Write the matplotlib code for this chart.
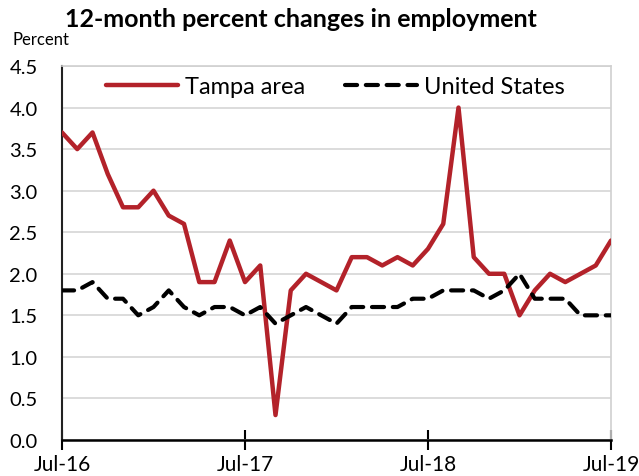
import matplotlib
matplotlib.use("Agg")
import matplotlib.pyplot as plt
import numpy as np

plt.rcParams['font.family'] = ['Lato', 'DejaVu Sans']

tick_labels = ["Jul-16", "Jul-17", "Jul-18", "Jul-19"]
tick_months = [0, 12, 24, 36]

tampa = [3.7, 3.5, 3.7, 3.2, 2.8, 2.8, 3.0, 2.7, 2.6, 1.9, 1.9, 2.4,
         1.9, 2.1, 0.3, 1.8, 2.0, 1.9, 1.8, 2.2, 2.2, 2.1, 2.2, 2.1,
         2.3, 2.6, 4.0, 2.2, 2.0, 2.0, 1.5, 1.8, 2.0, 1.9, 2.0, 2.1,
         2.4]
united_states = [1.8, 1.8, 1.9, 1.7, 1.7, 1.5, 1.6, 1.8, 1.6, 1.5, 1.6, 1.6,
                 1.5, 1.6, 1.4, 1.5, 1.6, 1.5, 1.4, 1.6, 1.6, 1.6, 1.6, 1.7,
                 1.7, 1.8, 1.8, 1.8, 1.7, 1.8, 2.0, 1.7, 1.7, 1.7, 1.5, 1.5,
                 1.5]
months = np.arange(len(tampa))

fig = plt.figure(figsize=(6.39, 4.77), dpi=100)
ax = fig.add_axes([62 / 639, 1 - 441 / 477, (611 - 62) / 639, (441 - 67) / 477])

ax.plot(months, tampa, color="#B3222A", lw=3.2, solid_capstyle="round",
        solid_joinstyle="round", label="Tampa area", zorder=3)
ax.plot(months, united_states, color="black", lw=3.0, dashes=(2.9, 2.1),
        dash_capstyle="round", dash_joinstyle="round", label="United States", zorder=3)

ax.set_xlim(0, 36)
ax.set_ylim(0, 4.5)
yticks = np.arange(0, 4.51, 0.5)
ax.set_yticks(yticks)
ax.set_yticklabels([f"{v:.1f}" for v in yticks])
ax.set_xticks(tick_months)
ax.set_xticklabels(tick_labels)

ax.grid(axis="y", color="#d9d9d9", lw=1.3, zorder=0)
ax.set_axisbelow(True)

for side in ("top", "right"):
    ax.spines[side].set_color("#d0d0d0")
    ax.spines[side].set_linewidth(1.2)
ax.spines["left"].set_color("#222222")
ax.spines["left"].set_linewidth(1.5)
ax.spines["bottom"].set_color("black")
ax.spines["bottom"].set_linewidth(1.8)

ax.tick_params(axis="y", length=0, labelsize=14.5, pad=17.5)
ax.tick_params(axis="x", direction="inout", length=14, width=1.5, labelsize=15, pad=3)

ax.legend(loc="center", ncol=2, frameon=False, fontsize=17,
          handlelength=3.05, columnspacing=1.7, handletextpad=0.3,
          bbox_to_anchor=(0.498, 1 - 21 / 374))

fig.text(301 / 639, 1 - 27 / 477, "12-month percent changes in employment",
         fontsize=18, fontweight="bold", ha="center", va="baseline")
fig.text(12 / 639, 1 - 45 / 477, "Percent", fontsize=12, ha="left", va="baseline")

fig.savefig("out.png", dpi=100)
